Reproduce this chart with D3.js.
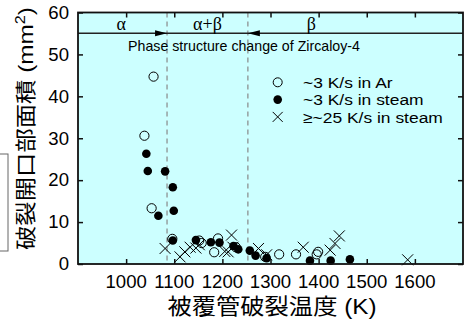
<!DOCTYPE html>
<html><head><meta charset="utf-8">
<script src="https://cdn.jsdelivr.net/npm/d3@7"></script>
<style>body{margin:0;background:#fff}svg{display:block}</style>
</head><body>
<svg id="c" width="473" height="320"></svg>
<script>
// ---- data ----
const xTicks = [1000, 1100, 1200, 1300, 1400, 1500, 1600];
const yTicks = [0, 10, 20, 30, 40, 50, 60];
const phaseBounds = [1085, 1253];
const phaseLabels = ["α", "α+β", "β"];
const phaseLabelT = [990, 1169, 1385];
const legendLabels = ["~3 K/s in Ar", "~3 K/s in steam", "≥~25 K/s in steam"];
// ~3 K/s in Ar (open circles)
const arT = [1057, 1038, 1053, 1096, 1152, 1157, 1183, 1191, 1228, 1289, 1318, 1353, 1399, 1396];
const arA = [44.7, 30.6, 13.3, 6.0, 5.6, 5.0, 2.8, 6.1, 4.0, 1.7, 2.3, 2.3, 2.9, 2.3];
// ~3 K/s in steam (filled circles)
const stT = [1042, 1045, 1081, 1097, 1067, 1099, 1097, 1145, 1176, 1194, 1223, 1233, 1257, 1269, 1292, 1382, 1425, 1465];
const stA = [26.3, 22.2, 22.1, 18.3, 11.5, 12.7, 5.6, 5.7, 5.2, 5.1, 4.3, 3.5, 3.2, 2.0, 1.4, 0.8, 0.8, 1.1];
// >=~25 K/s in steam (crosses)
const fsT = [1081, 1112, 1122, 1133, 1145, 1152, 1205, 1212, 1219, 1222, 1275, 1292, 1368, 1424, 1434, 1443, 1585];
const fsA = [3.7, 1.7, 2.9, 4.0, 3.8, 4.6, 3.0, 2.9, 6.9, 4.0, 3.7, 2.2, 4.0, 3.3, 4.9, 6.7, 1.0];

// ---- layout ----
const L = 78, R = 463, T = 12.5, B = 264;
const svg = d3.select("#c");
const x = d3.scaleLinear().domain([900, 1700]).range([L, R]);
const y = d3.scaleLinear().domain([0, 60]).range([B, T]);
const latin = "'Liberation Sans', Arial, sans-serif";
const cjk = "'Liberation Sans', 'Noto Sans CJK JP', sans-serif";
const SX = 1.05; // slight horizontal stretch of the original rendering

function stretchedText(sel, tx, ty, sx) {
  return sel.attr("transform", `translate(${tx},${ty}) scale(${sx || SX},1)`);
}

// left cropped box artifact
svg.append("rect").attr("x", -1).attr("y", 154).attr("width", 9).attr("height", 97)
  .attr("fill", "#fff").attr("stroke", "#666").attr("stroke-width", 1);

svg.append("rect").attr("x", L).attr("y", T).attr("width", R - L).attr("height", B - T)
  .attr("fill", "#ccffff");

// dashed phase boundaries
svg.selectAll("line.pb").data(phaseBounds).enter().append("line")
  .attr("x1", d => x(d)).attr("x2", d => x(d)).attr("y1", T).attr("y2", B)
  .attr("stroke", "#888").attr("stroke-width", 1.2).attr("stroke-dasharray", "5,4");

// phase line
const py = 33.3;
svg.append("line").attr("x1", L).attr("x2", R).attr("y1", py).attr("y2", py)
  .attr("stroke", "#222").attr("stroke-width", 1.5);
const a1 = x(phaseBounds[0]), a2 = x(phaseBounds[1]);
svg.append("path").attr("d", `M${a1},${py} L${a1-12},${py-3} L${a1-12},${py+3} Z`).attr("fill", "#000");
svg.append("path").attr("d", `M${a2},${py} L${a2+12},${py-3} L${a2+12},${py+3} Z`).attr("fill", "#000");
svg.selectAll("text.ph").data(phaseLabels).enter().append("text")
  .attr("x", (d, i) => x(phaseLabelT[i])).attr("y", 30)
  .attr("text-anchor", "middle").attr("font-family", "'Liberation Serif', 'Times New Roman', serif")
  .attr("font-size", 18).attr("fill", "#000").text(d => d);
svg.append("text").attr("x", 244).attr("y", 51).attr("text-anchor", "middle")
  .attr("font-family", latin).attr("font-size", 14.2).attr("fill", "#000")
  .text("Phase structure change of Zircaloy-4");

// data
const g = svg.append("g");
const ar = d3.zip(arT, arA), st = d3.zip(stT, stA), fs = d3.zip(fsT, fsA);
g.selectAll("path.fs").data(fs).enter().append("path")
  .attr("d", d => { const cx = x(d[0]), cy = y(d[1]), s = 5.5;
    return `M${cx-s},${cy-s}L${cx+s},${cy+s}M${cx-s},${cy+s}L${cx+s},${cy-s}`; })
  .attr("stroke", "#000").attr("stroke-width", 1).attr("fill", "none");
g.selectAll("circle.ar").data(ar).enter().append("circle")
  .attr("cx", d => x(d[0])).attr("cy", d => y(d[1])).attr("r", 4.6)
  .attr("fill", "none").attr("stroke", "#000").attr("stroke-width", 1);
g.selectAll("circle.st").data(st).enter().append("circle")
  .attr("cx", d => x(d[0])).attr("cy", d => y(d[1])).attr("r", 4.3)
  .attr("fill", "#000");

// frame
svg.append("rect").attr("x", L).attr("y", T).attr("width", R - L).attr("height", B - T)
  .attr("fill", "none").attr("stroke", "#111").attr("stroke-width", 1.8);

// axes with inward ticks
const fmt = d3.format("d");
const axB = svg.append("g").attr("transform", `translate(0,${B})`)
  .call(d3.axisTop(x).tickValues(xTicks).tickSize(5).tickFormat(""));
const axT = svg.append("g").attr("transform", `translate(0,${T})`)
  .call(d3.axisBottom(x).tickValues(xTicks).tickSize(5).tickFormat(""));
const axL = svg.append("g").attr("transform", `translate(${L},0)`)
  .call(d3.axisRight(y).tickValues(yTicks).tickSize(5).tickFormat(""));
const axR = svg.append("g").attr("transform", `translate(${R},0)`)
  .call(d3.axisLeft(y).tickValues(yTicks).tickSize(5).tickFormat(""));
[axB, axT, axL, axR].forEach(a => { a.select(".domain").remove();
  a.selectAll("line").attr("stroke", "#111").attr("stroke-width", 1.5); });

svg.selectAll("text.xt").data(xTicks).enter().append("text")
  .each(function(d) { stretchedText(d3.select(this), x(d), 287.5); })
  .attr("text-anchor", "middle")
  .attr("font-family", latin).attr("font-size", 17.7).attr("fill", "#000").text(fmt);
svg.selectAll("text.yt").data(yTicks).enter().append("text")
  .each(function(d) { stretchedText(d3.select(this), 69, y(d) + 6.3); })
  .attr("text-anchor", "end")
  .attr("font-family", latin).attr("font-size", 17.7).attr("fill", "#000").text(fmt);

// legend
const lx = 277.7, lys = [82.3, 99.6, 116.9];
const lg = svg.append("g");
lg.append("circle").attr("cx", lx).attr("cy", lys[0]).attr("r", 4.5).attr("fill", "none").attr("stroke", "#000");
lg.append("circle").attr("cx", lx).attr("cy", lys[1]).attr("r", 4.3).attr("fill", "#000");
lg.append("path").attr("d", `M${lx-5},${lys[2]-5}L${lx+5},${lys[2]+5}M${lx-5},${lys[2]+5}L${lx+5},${lys[2]-5}`)
  .attr("stroke", "#000").attr("stroke-width", 1);
lg.selectAll("text").data(legendLabels).enter().append("text")
  .each(function(d, i) { stretchedText(d3.select(this), 303, lys[i] + 5.6, 1.14); })
  .attr("font-family", latin).attr("font-size", 15.3).attr("fill", "#000").text(d => d);

// axis titles
svg.append("text").attr("x", 272).attr("y", 314).attr("text-anchor", "middle")
  .attr("font-family", cjk).attr("font-size", 21.5).attr("fill", "#000")
  .attr("textLength", 209).attr("lengthAdjust", "spacingAndGlyphs")
  .text("被覆管破裂温度 (K)");
const yl = svg.append("text").attr("transform", "translate(33,128.5) rotate(-90)")
  .attr("text-anchor", "middle").attr("font-family", cjk).attr("font-size", 21).attr("fill", "#000")
  .attr("textLength", 243).attr("lengthAdjust", "spacingAndGlyphs");
yl.append("tspan").text("破裂開口部面積 (mm");
yl.append("tspan").attr("font-size", 14).attr("dy", -8).text("2");
yl.append("tspan").attr("dy", 8).text(")");
</script>
</body></html>
